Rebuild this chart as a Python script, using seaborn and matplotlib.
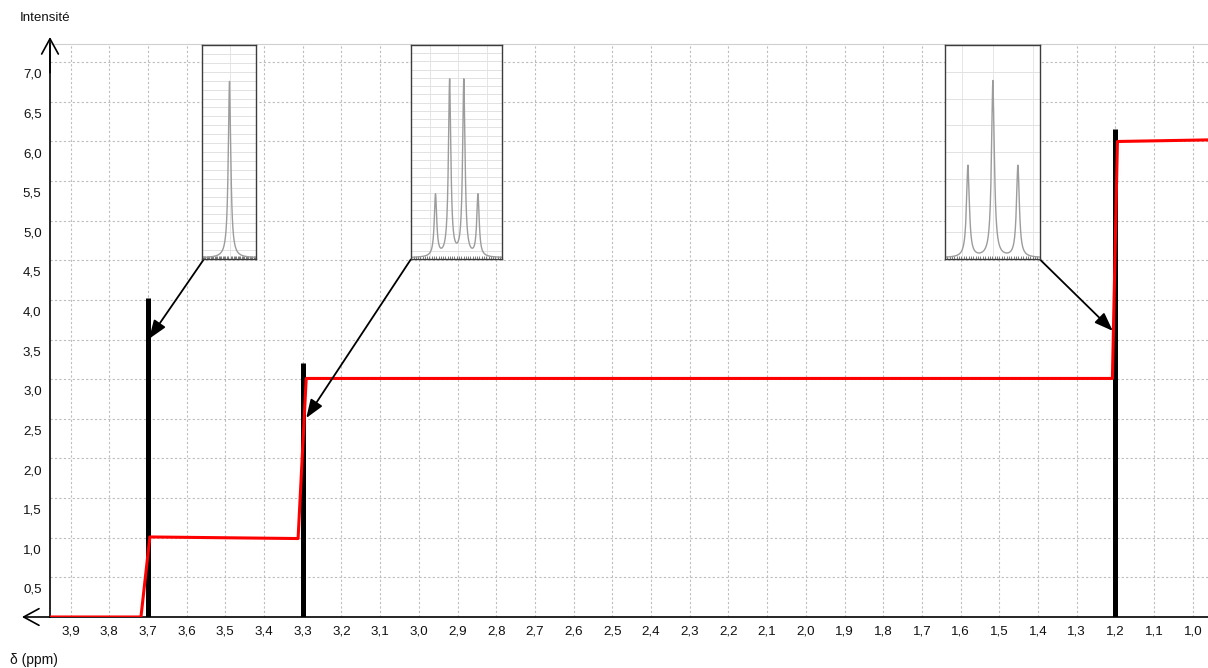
import numpy as np
import pandas as pd
import matplotlib
matplotlib.use("Agg")
import matplotlib.pyplot as plt
from matplotlib.ticker import MultipleLocator, FixedLocator, FuncFormatter, NullFormatter
from matplotlib.transforms import ScaledTranslation
import seaborn as sns

# Integration curve (cumulative area under the signals)
integ_ppm = [3.953, 3.718, 3.695, 3.312, 3.291, 1.208, 1.195, 0.961]
integ_val = [0.00, 0.00, 1.01, 0.99, 3.01, 3.01, 6.00, 6.02]

# Signal sticks
stick_ppm = [3.70, 3.30, 1.20]
stick_height = [4.03, 3.21, 6.16]

# Multiplets shown in the zoom boxes (positions in ppm, relative heights)
singlet_ppm = [3.700]
singlet_rel = [1.00]
quartet_ppm = [3.335, 3.3117, 3.2883, 3.265]
quartet_rel = [0.35, 1.00, 1.00, 0.35]
triplet_ppm = [1.2233, 1.200, 1.1767]
triplet_rel = [0.52, 1.00, 0.52]

# Y tick values
y_ticks = [0.5, 1.0, 1.5, 2.0, 2.5, 3.0, 3.5, 4.0, 4.5, 5.0, 5.5, 6.0, 6.5, 7.0]

sns.set_style("white")
plt.rcParams["font.family"] = ["Liberation Sans", "DejaVu Sans"]
plt.rcParams["text.color"] = "#111111"

W, H = 1208, 668
fig = plt.figure(figsize=(W / 100, H / 100), dpi=100)
ax = fig.add_axes([50 / W, 51 / H, 1158 / W, 573 / H])

# sticks first, integration curve on top
ax.vlines(stick_ppm, 0, stick_height, color="black", lw=3.6, zorder=3)
df = pd.DataFrame({"ppm": integ_ppm, "integrale": integ_val})
sns.lineplot(data=df, x="ppm", y="integrale", sort=False, color="#ff0000",
             lw=2.2, ax=ax, zorder=4)

ax.set_xlim(3.953, 0.961)
ax.set_ylim(0, 7.23)
ax.set_xlabel("")
ax.set_ylabel("")

comma = FuncFormatter(lambda v, p: f"{v:.1f}".replace(".", ",") if v > 0.01 else "")
ax.xaxis.set_major_locator(MultipleLocator(0.1))
ax.xaxis.set_minor_locator(MultipleLocator(0.01))
ax.xaxis.set_major_formatter(comma)
ax.yaxis.set_major_locator(FixedLocator(y_ticks))
ax.yaxis.set_minor_locator(MultipleLocator(0.1))
ax.yaxis.set_major_formatter(comma)

ax.grid(which="major", color="#bdbdbd", linestyle=(0, (2, 2)), lw=0.8)
ax.set_axisbelow(True)

ax.tick_params(axis="x", which="major", direction="out", length=3.2, width=0.8,
               color="#333333", labelsize=9.6, labelcolor="#111111", pad=3)
ax.tick_params(axis="x", which="minor", direction="out", length=2.0, width=0.6,
               color="#555555")
ax.tick_params(axis="y", which="major", direction="out", length=11.5, width=0.9,
               color="#333333", labelsize=9.6, labelcolor="#111111", pad=-5.5)
ax.tick_params(axis="y", which="minor", direction="in", length=2.0, width=0.6,
               color="#555555")

for side in ("left", "bottom"):
    ax.spines[side].set_color("black")
    ax.spines[side].set_linewidth(1.2)
ax.spines["top"].set_color("#cfcfcf")
ax.spines["top"].set_linewidth(0.8)
ax.spines["right"].set_visible(False)

# axis arrows
arrow_axes = dict(arrowstyle="->,head_length=0.55,head_width=0.3", lw=1.2,
                  color="black", shrinkA=0, shrinkB=0, mutation_scale=20)
ax.annotate("", xy=(-0.0242, 0), xytext=(0.0, 0), xycoords="axes fraction",
            arrowprops=arrow_axes, annotation_clip=False)
ax.annotate("", xy=(0, 1.0122), xytext=(0, 0.95), xycoords="axes fraction",
            arrowprops=arrow_axes, annotation_clip=False)

# pointers from the zoom boxes to their signals
ptr = dict(arrowstyle="-|>,head_length=0.75,head_width=0.28", lw=1.3, color="black",
           shrinkA=0, shrinkB=0, mutation_scale=15)
ax.annotate("", xy=(3.697, 3.51), xytext=(3.556, 4.51), arrowprops=ptr,
            annotation_clip=False, zorder=6)
ax.annotate("", xy=(3.291, 2.51), xytext=(3.021, 4.51), arrowprops=ptr,
            annotation_clip=False, zorder=6)
ax.annotate("", xy=(1.207, 3.61), xytext=(1.395, 4.51), arrowprops=ptr,
            annotation_clip=False, zorder=6)

fig.text(20 / W, 1 - 18 / H, "Intensité", fontsize=9.6, va="center", ha="left")
fig.text(10 / W, 1 - 660 / H, "δ (ppm)", fontsize=10, va="center", ha="left")


def multiplet_box(left_px, right_px, peaks, rel, xlim, hwhm, n_hgrid, vgrid):
    rect = [left_px / W, 1 - 259 / H, (right_px - left_px) / W, 214 / H]
    iax = fig.add_axes(rect)
    grid = np.linspace(xlim[0], xlim[1], 1500)
    spec = np.zeros_like(grid)
    for p, h in zip(peaks, rel):
        spec += h * hwhm ** 2 / ((grid - p) ** 2 + hwhm ** 2)
    sns.lineplot(x=grid, y=spec, color="#9c9c9c", lw=1.0, ax=iax)
    iax.set_xlim(*xlim)
    ylo, yhi = -0.006, 1.206
    iax.set_ylim(ylo, yhi)
    iax.set_yticks(np.linspace(ylo, yhi, n_hgrid)[1:-1])
    iax.set_xticks(vgrid)
    iax.xaxis.set_minor_locator(MultipleLocator(abs(xlim[0] - xlim[1]) / 40))
    iax.xaxis.set_major_formatter(NullFormatter())
    iax.yaxis.set_major_formatter(NullFormatter())
    iax.set_xlabel("")
    iax.set_ylabel("")
    iax.grid(axis="y", color="#e2e2e2", lw=0.7, ls="-")
    iax.grid(axis="x", color="#e6e6e6", lw=0.7, ls="-")
    iax.tick_params(which="major", length=0)
    iax.tick_params(axis="x", which="minor", direction="in", length=2.2, width=0.6,
                    color="#666666", bottom=True)
    for s in iax.spines.values():
        s.set_color("#3c3c3c")
        s.set_linewidth(1.0)
    return iax


multiplet_box(202, 256, singlet_ppm, singlet_rel, (3.7255, 3.6755), 0.0014,
              25, [3.700])
multiplet_box(411, 502, quartet_ppm, quartet_rel, (3.3754, 3.2254), 0.0024,
              27, [3.344, 3.298, 3.250])
multiplet_box(945, 1040, triplet_ppm, triplet_rel, (1.2447, 1.1561), 0.0016,
              9, [1.2286, 1.200, 1.1627])

# shift y tick labels just below their tick marks
fig.canvas.draw()
off = ScaledTranslation(0, -8 / 72, fig.dpi_scale_trans)
for t in ax.yaxis.get_major_ticks():
    t.label1.set_transform(t.label1.get_transform() + off)

fig.savefig("out.png", dpi=100)
